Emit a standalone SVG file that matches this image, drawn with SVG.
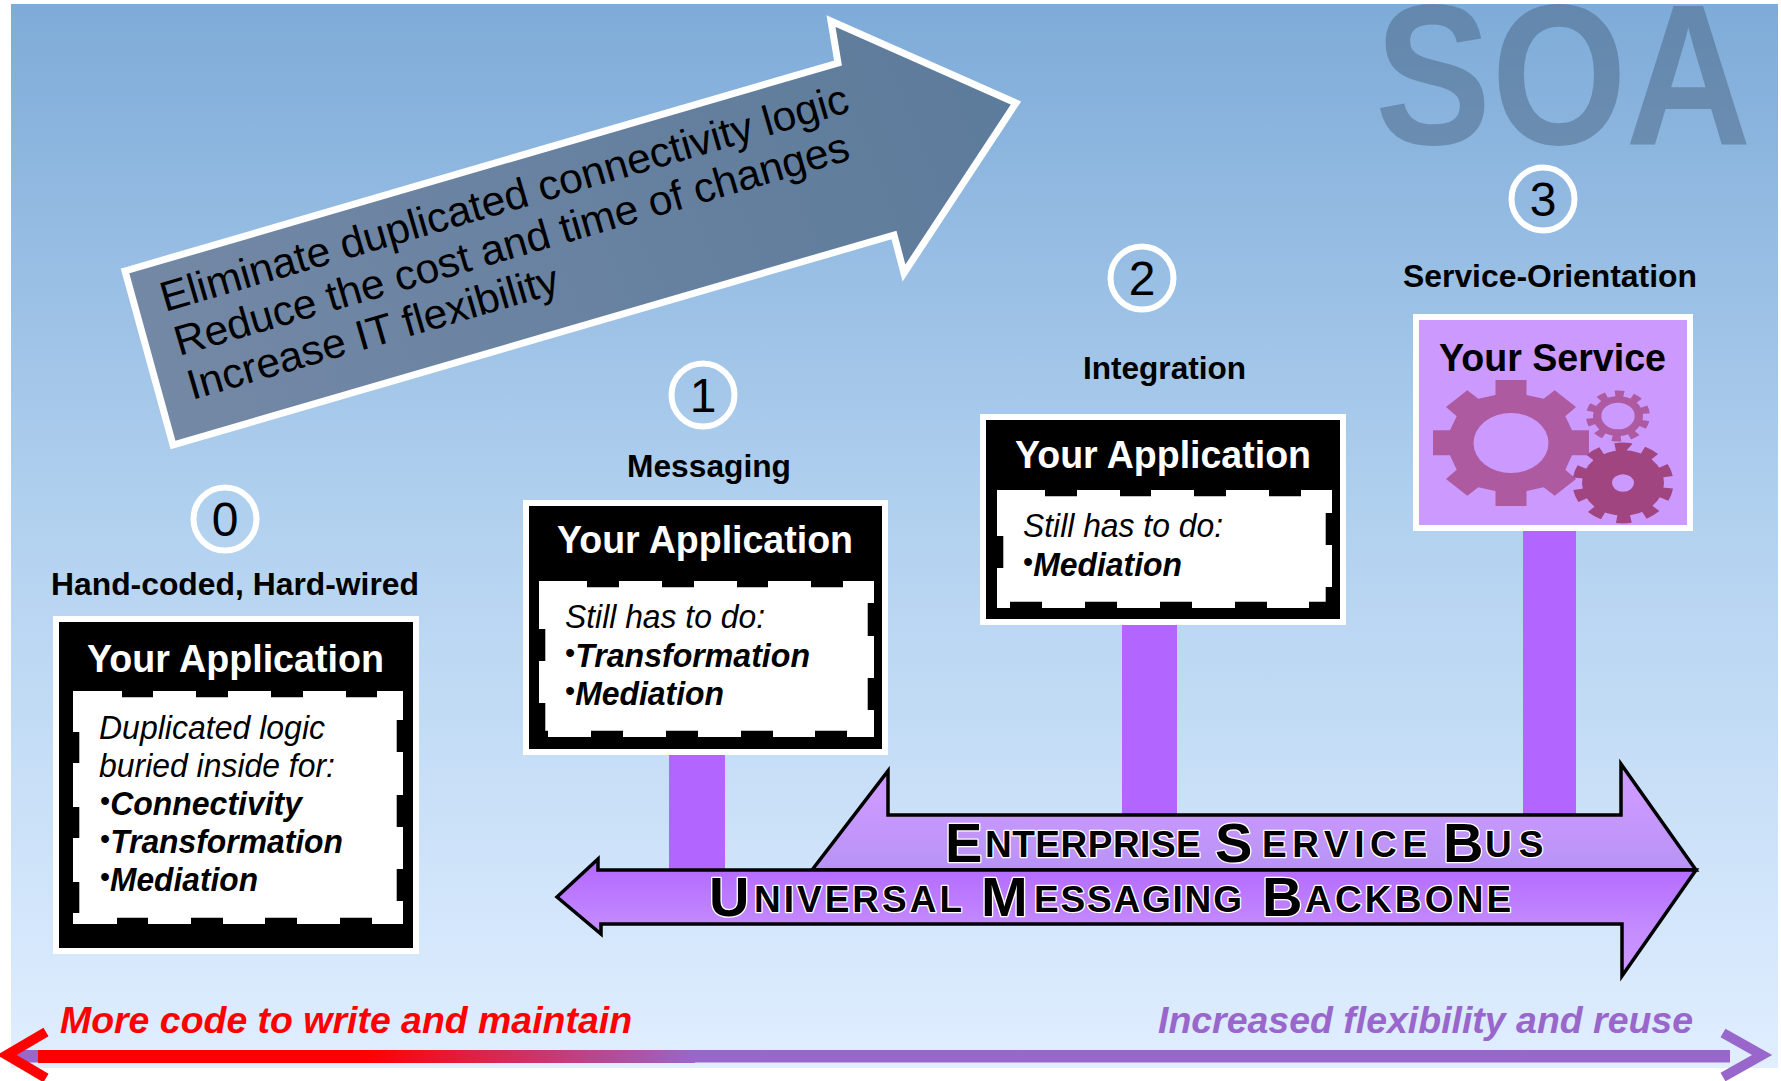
<svg xmlns="http://www.w3.org/2000/svg" width="1781" height="1081" viewBox="0 0 1781 1081">
<style>
text{font-family:"Liberation Sans",Arial,sans-serif}
.lab{font-size:32px;font-weight:bold;fill:#000}
.ttl{font-size:38px;font-weight:bold;fill:#fff}
.it{font-size:33px;font-style:italic;fill:#000}
.bi{font-size:33px;font-style:italic;font-weight:bold;fill:#000}
.bu{font-style:normal;font-weight:normal;font-size:30px}
.num{font-size:48px;text-anchor:middle;fill:#000}
.ring{fill:none;stroke:#fff;stroke-width:6}
.wh{fill:#fff}.bk{fill:#000}
.dash{fill:none;stroke:#000;stroke-width:6.6}
.stem{fill:#b266ff}
.bus{stroke:#000;stroke-width:3.5;stroke-miterlimit:20}
.caps{font-weight:bold;fill:#000;stroke:#fff;stroke-width:2.6px;paint-order:stroke;stroke-linejoin:round}
.g1{font-size:56px}.g2{font-size:37px}
.arr{font-size:42px;fill:#000}
.foot{font-size:37px;font-weight:bold;font-style:italic}
</style>
<defs>
<linearGradient id="bg" x1="0" y1="0" x2="0" y2="1"><stop offset="0" stop-color="#7eabd8"/><stop offset="0.5" stop-color="#b3d2f0"/><stop offset="1" stop-color="#e0eeff"/></linearGradient>
<linearGradient id="ag" gradientUnits="userSpaceOnUse" x1="1000" y1="100" x2="150" y2="440"><stop offset="0" stop-color="#5d7b9b"/><stop offset="1" stop-color="#7489a6"/></linearGradient>
<linearGradient id="esb" x1="0" y1="0" x2="0" y2="1"><stop offset="0.3" stop-color="#cc99ff"/><stop offset="1" stop-color="#b893f5"/></linearGradient>
<linearGradient id="umb" x1="0" y1="0" x2="0" y2="1"><stop offset="0" stop-color="#b266ff"/><stop offset="0.6" stop-color="#c48cff"/><stop offset="1" stop-color="#cc99ff"/></linearGradient>
<linearGradient id="rb" gradientUnits="userSpaceOnUse" x1="38" y1="0" x2="695" y2="0"><stop offset="0.5" stop-color="#ff0000"/><stop offset="1" stop-color="#9966cc"/></linearGradient>
<clipPath id="top"><rect x="11" y="4" width="1767" height="300"/></clipPath>
</defs>
<rect x="0" y="0" width="1781" height="1081" fill="#fff"/>
<rect id="background" x="11" y="4" width="1767" height="1064" fill="url(#bg)"/>
<g clip-path="url(#top)"><text id="soa" transform="translate(1375 144) scale(.87 1)" x="0 134 288" y="0" font-size="200" font-weight="bold" fill="#4f6b8a" fill-opacity="0.55">SOA</text></g>

<g id="benefits-arrow">
<path d="M125 271L838 63L831 21L1016 103L904 273L894 235L173 445Z" fill="url(#ag)" stroke="#fff" stroke-width="7" stroke-miterlimit="10"/>
<text class="arr" transform="translate(165 312) rotate(-16.3)" textLength="715" lengthAdjust="spacingAndGlyphs">Eliminate duplicated connectivity logic</text>
<text class="arr" transform="translate(179 356) rotate(-16.3)" textLength="701" lengthAdjust="spacingAndGlyphs">Reduce the cost and time of changes</text>
<text class="arr" transform="translate(192 400) rotate(-16.3)" textLength="385" lengthAdjust="spacingAndGlyphs">Increase IT flexibility</text>
</g>

<g id="connectors">
<rect class="stem" x="669" y="755" width="56" height="116"/>
<rect class="stem" x="1122" y="625" width="55" height="191"/>
<rect class="stem" x="1523" y="531" width="53" height="285"/>
</g>

<g id="esb-arrow">
<path class="bus" d="M812 870L888 771V815H1621V764L1696 870Z" fill="url(#esb)"/>
<text class="caps"><tspan class="g1" x="945" y="862">E</tspan><tspan class="g2" x="985" y="857" style="letter-spacing:.5px">NTERPRISE </tspan><tspan class="g1" x="1215" y="862">S</tspan><tspan class="g2" x="1262" y="857" style="letter-spacing:5.6px">ERVICE </tspan><tspan class="g1" x="1443" y="862">B</tspan><tspan class="g2" x="1485" y="857" style="letter-spacing:7px">US</tspan></text>
</g>
<g id="umb-arrow">
<path class="bus" d="M557 897L598 859V870H1696L1622 976V924H601V934Z" fill="url(#umb)"/>
<text class="caps"><tspan class="g1" x="709" y="916">U</tspan><tspan class="g2" x="754" y="912" style="letter-spacing:3px">NIVERSAL </tspan><tspan class="g1" x="981" y="916">M</tspan><tspan class="g2" x="1034" y="912" style="letter-spacing:1.8px">ESSAGING </tspan><tspan class="g1" x="1262" y="916">B</tspan><tspan class="g2" x="1305" y="912" style="letter-spacing:3.2px">ACKBONE</tspan></text>
</g>

<g id="node-0">
<circle class="ring" cx="225" cy="519" r="31.5"/><text class="num" x="225" y="536">0</text>
<text class="lab" x="51" y="595" textLength="368" lengthAdjust="spacingAndGlyphs">Hand-coded, Hard-wired</text>
<rect class="wh" x="53" y="616" width="366" height="338"/><rect class="bk" x="59" y="622" width="354" height="326"/>
<text class="ttl" x="87" y="672" textLength="297" lengthAdjust="spacingAndGlyphs">Your Application</text>
<rect class="wh" x="73" y="691" width="330" height="233"/>
<path class="dash" d="M122 694h31M196 694h32M271 694h32M346 694h31M400 720v32M400 795v32M400 869v32M117 921h31M191 921h32M265 921h32M340 921h32M76 732v31M76 807v31M76 882v31"/>
<text class="it" x="99" y="739" textLength="226" lengthAdjust="spacingAndGlyphs">Duplicated logic</text>
<text class="it" x="99" y="777" textLength="236" lengthAdjust="spacingAndGlyphs">buried inside for:</text>
<text class="bi" x="100" y="815" textLength="202" lengthAdjust="spacingAndGlyphs"><tspan class="bu" dy="-4">•</tspan><tspan dy="4">Connectivity</tspan></text>
<text class="bi" x="100" y="853" textLength="243" lengthAdjust="spacingAndGlyphs"><tspan class="bu" dy="-4">•</tspan><tspan dy="4">Transformation</tspan></text>
<text class="bi" x="100" y="891" textLength="158" lengthAdjust="spacingAndGlyphs"><tspan class="bu" dy="-4">•</tspan><tspan dy="4">Mediation</tspan></text>
</g>

<g id="node-1">
<circle class="ring" cx="703" cy="395" r="31.5"/><text class="num" x="703" y="412">1</text>
<text class="lab" x="627" y="477" textLength="164" lengthAdjust="spacingAndGlyphs">Messaging</text>
<rect class="wh" x="523" y="500" width="365" height="255"/><rect class="bk" x="529" y="506" width="353" height="243"/>
<text class="ttl" x="557" y="553" textLength="296" lengthAdjust="spacingAndGlyphs">Your Application</text>
<rect class="wh" x="539" y="581" width="335" height="156"/>
<path class="dash" d="M587 584h32M662 584h32M737 584h31M811 584h32M871 603v33M871 678v32M542 629v32M542 703v31h6M591 734h32M666 734h32M741 734h32M815 734h32"/>
<text class="it" x="565" y="628" textLength="200" lengthAdjust="spacingAndGlyphs">Still has to do:</text>
<text class="bi" x="565" y="667" textLength="245" lengthAdjust="spacingAndGlyphs"><tspan class="bu" dy="-4">•</tspan><tspan dy="4">Transformation</tspan></text>
<text class="bi" x="565" y="705" textLength="159" lengthAdjust="spacingAndGlyphs"><tspan class="bu" dy="-4">•</tspan><tspan dy="4">Mediation</tspan></text>
</g>

<g id="node-2">
<circle class="ring" cx="1142" cy="278" r="31.5"/><text class="num" x="1142" y="295">2</text>
<text class="lab" x="1083" y="379" textLength="163" lengthAdjust="spacingAndGlyphs">Integration</text>
<rect class="wh" x="980" y="414" width="366" height="211"/><rect class="bk" x="986" y="420" width="354" height="199"/>
<text class="ttl" x="1015" y="468" textLength="296" lengthAdjust="spacingAndGlyphs">Your Application</text>
<rect class="wh" x="997" y="490" width="335" height="118"/>
<path class="dash" d="M1045 493h32M1120 493h31M1194 493h32M1269 493h32M1329 513v32M1329 587v18h-20M1000 536v32M1010 605h32M1085 605h32M1160 605h32M1235 605h32"/>
<text class="it" x="1023" y="537" textLength="200" lengthAdjust="spacingAndGlyphs">Still has to do:</text>
<text class="bi" x="1023" y="576" textLength="159" lengthAdjust="spacingAndGlyphs"><tspan class="bu" dy="-4">•</tspan><tspan dy="4">Mediation</tspan></text>
</g>

<g id="node-3">
<circle class="ring" cx="1543" cy="199" r="31.5"/><text class="num" x="1543" y="216">3</text>
<text class="lab" x="1403" y="287" textLength="294" lengthAdjust="spacingAndGlyphs">Service-Orientation</text>
<rect class="wh" x="1413" y="314" width="280" height="217"/><rect x="1419" y="320" width="268" height="205" fill="#cc99ff"/>
<text x="1439" y="371" font-size="38" font-weight="bold" fill="#000" textLength="227" lengthAdjust="spacingAndGlyphs">Your Service</text>
<g fill="#ad5aa0">
<path transform="translate(1511 443)" d="M-15.5-48V-63H15.5V-48L32.7-44.3L43.7-52.7L65-36L54.3-26.7L61-12.7H78V12.3H61L54.3 26.7L65 36L43.7 52.7L32.7 44.3L15.5 48V63H-15.5V48L-32.7 44.3L-43.7 52.7L-65 36L-54.3 26.7L-61 12.3H-78V-12.7H-61L-54.3-26.7L-65-36L-43.7-52.7L-32.7-44.3Z"/>
<g transform="translate(1618 416) scale(1 .8)">
<circle r="25"/>
<circle transform="rotate(12)" r="27.5" fill="none" stroke="#ad5aa0" stroke-width="9" pathLength="100" stroke-dasharray="5 5"/>
</g>
</g>
<ellipse cx="1511" cy="443" rx="37.5" ry="30" fill="#cc99ff"/>
<ellipse cx="1618" cy="416" rx="16.7" ry="13.3" fill="#cc99ff"/>
<g transform="translate(1623 483) scale(1 .8)" fill="#a0457f">
<circle r="41"/>
<circle transform="rotate(8)" r="45" fill="none" stroke="#a0457f" stroke-width="11" pathLength="100" stroke-dasharray="5 5"/>
</g>
<ellipse cx="1623" cy="483" rx="11" ry="8.7" fill="#cc99ff"/>
</g>

<g id="scale">
<text class="foot" x="60" y="1033" fill="#ff0000" textLength="572" lengthAdjust="spacingAndGlyphs">More code to write and maintain</text>
<text class="foot" x="1158" y="1033" fill="#9966cc" textLength="535" lengthAdjust="spacingAndGlyphs">Increased flexibility and reuse</text>
<rect x="15" y="1050" width="1715" height="12.5" fill="#9966cc"/>
<rect x="38" y="1050" width="657" height="13" fill="url(#rb)"/>
<path d="M46 1032L7 1055L46 1078" fill="none" stroke="#ff0000" stroke-width="10" stroke-miterlimit="10"/>
<path d="M1723 1033L1762 1055L1723 1077" fill="none" stroke="#9966cc" stroke-width="10" stroke-miterlimit="10"/>
</g>
</svg>
